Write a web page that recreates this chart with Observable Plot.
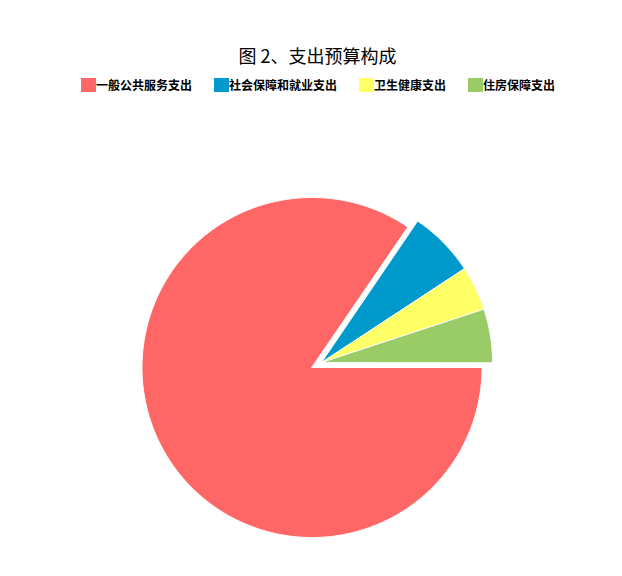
<!DOCTYPE html>
<html>
<head>
<meta charset="utf-8">
<script src="https://cdn.jsdelivr.net/npm/d3@7"></script>
<script src="https://cdn.jsdelivr.net/npm/@observablehq/plot@0.6"></script>
<style>
  html, body { margin: 0; padding: 0; background: #fff; }
  #wrap { position: relative; width: 622px; height: 576px; overflow: hidden; font-family: "Noto Sans CJK SC", sans-serif; }
  #title { position: absolute; left: 0; width: 635px; top: 45px; text-align: center; font-size: 18px; line-height: 20px; color: #000; }
  #legend { position: absolute; left: 81px; top: 77px; display: flex; gap: 22px; }
  .item { display: flex; align-items: center; font-size: 12px; font-weight: bold; line-height: 15px; color: #000; }
  .sw { width: 15px; height: 14px; display: inline-block; }
  #chart { position: absolute; left: 0; top: 100px; }
</style>
</head>
<body>
<div id="wrap">
  <div id="title"></div>
  <div id="legend"></div>
  <div id="chart"></div>
</div>
<script>
const titleText = "图 2、支出预算构成";
const categories = ["一般公共服务支出", "社会保障和就业支出", "卫生健康支出", "住房保障支出"];
const values = [84.5, 6.25, 4.2, 5.05];
const colors = ["#ff6666", "#0099cc", "#ffff66", "#99cc66"];
const exploded = [false, true, true, true];

document.getElementById("title").textContent = titleText;
const legend = document.getElementById("legend");
categories.forEach((c, i) => {
  const it = document.createElement("div");
  it.className = "item";
  const sw = document.createElement("span");
  sw.className = "sw";
  sw.style.background = colors[i];
  const tx = document.createElement("span");
  tx.textContent = c;
  it.appendChild(sw); it.appendChild(tx);
  legend.appendChild(it);
});

// geometry (layout)
const W = 622, H = 476;
const cx = 311.5, cy = 267;      // pie center in SVG pixels
const R = 170, Rx = 171;
const off = [9.5, 5];           // group offset (x right, y up)

const total = d3.sum(values);
const pts = [];
let acc = 0;
values.forEach((v, i) => {
  const a0 = -acc / total * 2 * Math.PI;
  acc += v;
  const a1 = -acc / total * 2 * Math.PI;
  const ox = exploded[i] ? off[0] : 0, oy = exploded[i] ? off[1] : 0;
  const r = exploded[i] ? Rx : R;
  pts.push({name: categories[i], x: ox, y: oy});
  const n = Math.max(2, Math.ceil(Math.abs(a1 - a0) / (Math.PI / 360)));
  for (let k = 0; k <= n; k++) {
    const a = a0 + (a1 - a0) * k / n;
    pts.push({name: categories[i], x: ox + r * Math.cos(a), y: oy + r * Math.sin(a)});
  }
});

const plot = Plot.plot({
  width: W, height: H,
  margin: 0,
  x: {domain: [-cx, W - cx], axis: null},
  y: {domain: [-(H - cy), cy], axis: null},
  color: {domain: categories, range: colors},
  marks: [
    Plot.line(pts, {x: "x", y: "y", z: "name", fill: "name", stroke: "white", strokeWidth: 1, curve: "linear-closed"})
  ]
});
document.getElementById("chart").appendChild(plot);
</script>
</body>
</html>
